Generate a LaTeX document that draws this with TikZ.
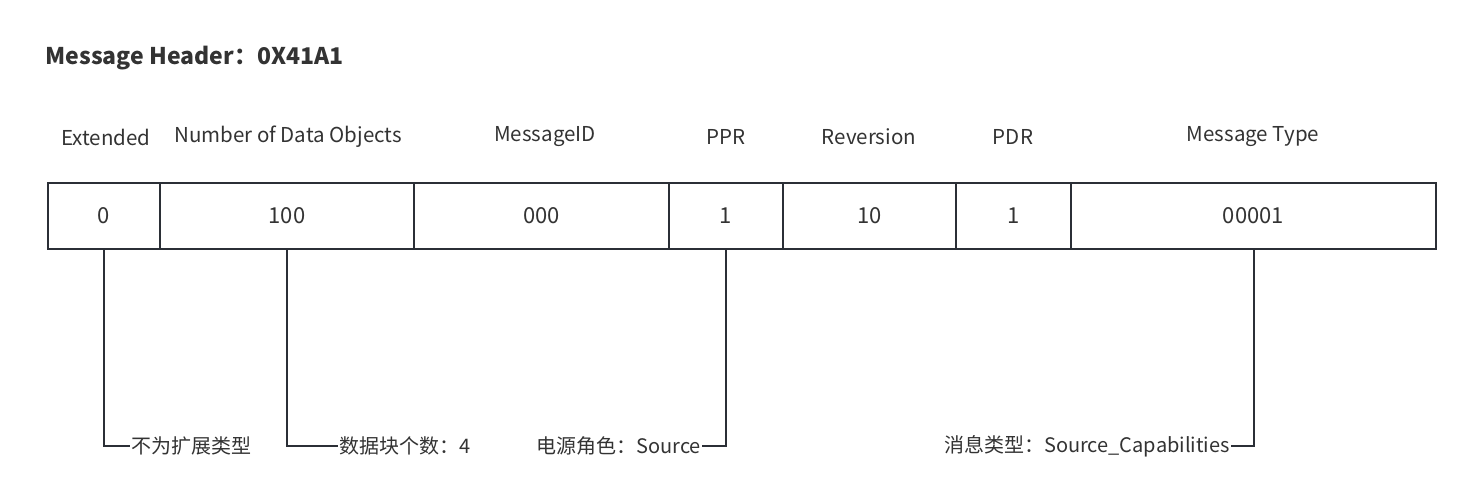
\documentclass[tikz,border=0pt]{standalone}
\usepackage{fontspec}
\setmainfont{Noto Sans CJK SC}
\definecolor{linegray}{HTML}{2B2F36}
\definecolor{textgray}{HTML}{333333}
\tikzset{
  cell/.style={draw=linegray, line width=2pt, minimum height=66pt, inner sep=0pt, font=\fontsize{22}{26}\selectfont, text=textgray},
  head/.style={font=\fontsize{20.5}{24}\selectfont, text=textgray},
  note/.style={font=\fontsize{20}{24}\selectfont, text=textgray, inner sep=1pt},
  wire/.style={draw=linegray, line width=2pt}
}
\begin{document}
\begin{tikzpicture}[x=1pt,y=-1pt]
  \useasboundingbox (0,0) rectangle (1479,501);
  \node[anchor=west, font=\bfseries\fontsize{23}{27}\selectfont, text=textgray] (title) at (42,58) {Message Header：0X41A1};
  % field names above the cells
  \node[head] (hext) at (106,137) {Extended};
  \node[head] (hnum) at (288,137) {Number of Data Objects};
  \node[head] (hmid) at (545,137) {MessageID};
  \node[head] (hppr) at (726,137) {PPR};
  \node[head] (hrev) at (869,137) {Reversion};
  \node[head] (hpdr) at (1013,137) {PDR};
  \node[head] (htyp) at (1253,137) {Message Type};
  % the header bits
  \node[cell, minimum width=112pt] (ext) at (104,216) {0};
  \node[cell, minimum width=254pt] (num) at (287,216) {100};
  \node[cell, minimum width=255pt] (mid) at (541.5,216) {000};
  \node[cell, minimum width=114pt] (ppr) at (726,216) {1};
  \node[cell, minimum width=173pt] (rev) at (869.5,216) {10};
  \node[cell, minimum width=115pt] (pdr) at (1013.5,216) {1};
  \node[cell, minimum width=365pt] (typ) at (1253.5,216) {00001};
  % notes below
  \node[note, anchor=west] (next) at (130,446) {不为扩展类型};
  \node[note, anchor=west] (nnum) at (338,446) {数据块个数：4};
  \node[note, anchor=east] (nppr) at (702,446) {电源角色：Source};
  \node[note, anchor=east] (ntyp) at (1231,446) {消息类型：Source\_Capabilities};
  \draw[wire] (ext.south) |- (next.west);
  \draw[wire] (num.south) |- (nnum.west);
  \draw[wire] (ppr.south) |- (nppr.east);
  \draw[wire] (typ.south) |- (ntyp.east);
\end{tikzpicture}
\end{document}
